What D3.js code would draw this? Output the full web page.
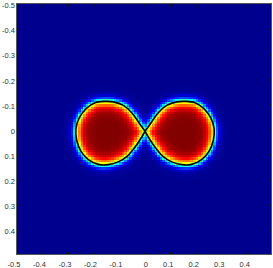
<!DOCTYPE html>
<html>
<head>
<meta charset="utf-8">
<script src="https://cdn.jsdelivr.net/npm/d3@7"></script>
<style>
body{margin:0;background:#fff;}
svg{display:block;}
text{font-family:"Liberation Sans",Arial,sans-serif;}
</style>
</head>
<body>
<script>
// canvas
var W=273, H=268;
var pLeft=17, pRight=272, pTop=4, pBottom=255;

// tick values / labels
var xTicks=[-0.5,-0.4,-0.3,-0.2,-0.1,0,0.1,0.2,0.3,0.4];
var xTickLabels=["-0.5","-0.4","-0.3","-0.2","-0.1","0","0.1","0.2","0.3","0.4"];
var yTicks=[-0.5,-0.4,-0.3,-0.2,-0.1,0,0.1,0.2,0.3,0.4];
var yTickLabels=["-0.5","-0.4","-0.3","-0.2","-0.1","0","0.1","0.2","0.3","0.4"];

// figure-eight outline (black level line)
var leftLobeX=[0.002,-0.024,-0.050,-0.083,-0.122,-0.155,-0.194,-0.229,-0.256,-0.269,-0.266,-0.249,-0.220,-0.181,-0.142,-0.103,-0.067,-0.037,-0.015,0.002];
var leftLobeY=[0.007,-0.030,-0.067,-0.096,-0.110,-0.112,-0.107,-0.083,-0.046,-0.003,0.043,0.087,0.120,0.139,0.140,0.129,0.106,0.070,0.037,0.007];
var rightLobeX=[0.002,0.028,0.054,0.087,0.126,0.159,0.198,0.233,0.260,0.273,0.270,0.253,0.224,0.185,0.146,0.107,0.071,0.041,0.019,0.002];
var rightLobeY=[0.007,-0.030,-0.067,-0.096,-0.110,-0.112,-0.107,-0.083,-0.046,-0.003,0.043,0.087,0.120,0.139,0.140,0.129,0.106,0.070,0.037,0.007];

var gridN=100;

var x=d3.scaleLinear().domain([-0.5,0.5]).range([pLeft,pRight]);
var y=d3.scaleLinear().domain([-0.5,0.5]).range([pTop,pBottom]);

// matlab jet
var jet=d3.scaleLinear()
  .domain([0,0.111,0.365,0.619,0.873,1])
  .range(["#00008f","#0000ff","#00ffff","#ffff00","#ff0000","#800000"])
  .clamp(true);

var svg=d3.select("body").append("svg").attr("width",W).attr("height",H);

var gHeat=svg.append("g");
var gLine=svg.append("g");
var gAxis=svg.append("g");

var lobes=[d3.zip(leftLobeX,leftLobeY), d3.zip(rightLobeX,rightLobeY)];

var line=d3.line()
  .x(function(d){return x(d[0]);})
  .y(function(d){return y(d[1]);})
  .curve(d3.curveCatmullRom.alpha(0.5));

var paths=gLine.selectAll("path")
  .data(lobes)
  .enter()
  .append("path")
  .attr("d",line)
  .attr("fill","none")
  .attr("stroke","#000")
  .attr("stroke-width",1.6);

// sample outline to get polygons
var polys=[];
paths.each(function(){
  var L=this.getTotalLength(), pts=[];
  for(var k=0;k<300;k++){
    var p=this.getPointAtLength(L*k/300);
    pts.push([p.x,p.y]);
  }
  polys.push(pts);
});
var samples=polys[0].concat(polys[1]);

var cells=[];
var step=1/gridN;
for(var i=0;i<gridN;i++){
  for(var j=0;j<gridN;j++){
    var cx=-0.5+(i+0.5)*step, cy=-0.5+(j+0.5)*step;
    var px=x(cx), py=y(cy), m=1e9;
    for(var k=0;k<samples.length;k++){
      var dx=samples[k][0]-px, dy=samples[k][1]-py;
      var dd=dx*dx+dy*dy;
      if(dd<m) m=dd;
    }
    var d=Math.sqrt(m);
    var inside=d3.polygonContains(polys[0],[px,py])||d3.polygonContains(polys[1],[px,py]);
    var v=inside ? 1/(1+Math.exp(-d/3.5)) : 1/(1+Math.exp(d/2.2));
    cells.push({x:cx,y:cy,v:v});
  }
}

var cw=x(step)-x(0), ch=y(step)-y(0);
gHeat.selectAll("rect")
  .data(cells)
  .enter()
  .append("rect")
  .attr("x",function(d){return x(d.x-step/2);})
  .attr("y",function(d){return y(d.y-step/2);})
  .attr("width",cw+0.4)
  .attr("height",ch+0.4)
  .attr("fill",function(d){return jet(d.v);})
  .attr("shape-rendering","crispEdges");

// axes, ticks pointing inward
var xa=gAxis.append("g").attr("transform","translate(0,"+pBottom+")")
  .call(d3.axisBottom(x).tickValues(xTicks).tickSize(-3).tickSizeOuter(0).tickPadding(6.5)
    .tickFormat(function(d,i){return xTickLabels[i];}));
gAxis.append("g").attr("transform","translate(0,"+pTop+")")
  .call(d3.axisTop(x).tickValues(xTicks).tickSize(-3).tickSizeOuter(0).tickFormat(""));
var ya=gAxis.append("g").attr("transform","translate("+pLeft+",0)")
  .call(d3.axisLeft(y).tickValues(yTicks).tickSize(-3).tickSizeOuter(0).tickPadding(2)
    .tickFormat(function(d,i){return yTickLabels[i];}));
gAxis.append("g").attr("transform","translate("+pRight+",0)")
  .call(d3.axisRight(y).tickValues(yTicks).tickSize(-3).tickSizeOuter(0).tickFormat(""));

gAxis.selectAll(".domain").remove();
gAxis.selectAll(".tick line").attr("stroke","#111");
gAxis.selectAll("text").attr("font-size","7.5px").attr("fill","#333")
  .attr("font-family","'Liberation Sans',Arial,sans-serif");
xa.selectAll("text").attr("text-anchor","end").attr("dx","3px");
ya.selectAll("text").attr("dy","0.5em");

svg.append("rect")
  .attr("x",pLeft-0.5).attr("y",pTop-0.5)
  .attr("width",pRight-pLeft).attr("height",pBottom-pTop)
  .attr("fill","none").attr("stroke","#555").attr("stroke-width",1);
</script>
</body>
</html>
